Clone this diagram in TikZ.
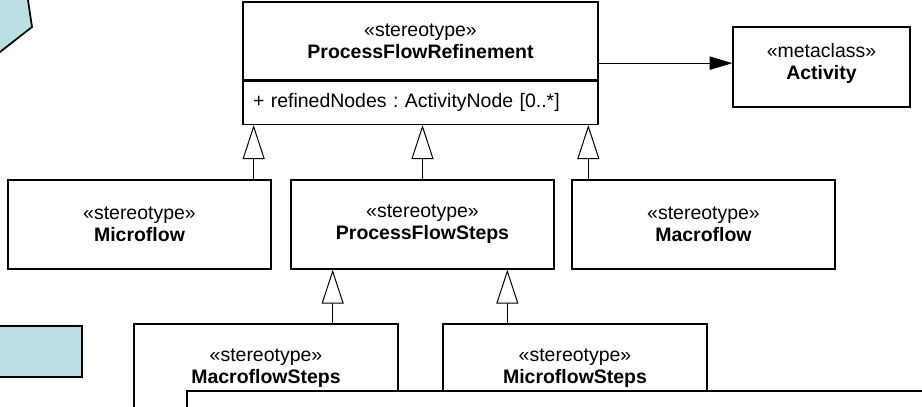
\documentclass[tikz,border=0pt]{standalone}
\usepackage{fontspec}
\setmainfont{Liberation Sans}
\usetikzlibrary{arrows.meta,calc,positioning}
\definecolor{paleteal}{HTML}{BBE0E3}
\frenchspacing
\tikzset{
  umlbox/.style={draw,line width=1pt,fill=white,align=center,inner sep=0pt},
  midbox/.style={umlbox,minimum width=197.25pt,minimum height=66.75pt},
  lowbox/.style={umlbox,minimum width=198pt,minimum height=66.75pt},
  gen/.style={line width=0.75pt,-{Triangle[open,length=25.5pt,width=16.5pt,fill=white]}},
  assoc/.style={line width=0.75pt,-{Triangle[length=17pt,width=10pt]}},
}
\begin{document}
\begin{tikzpicture}[x=0.75pt,y=-0.75pt,line join=miter,font=\fontsize{14.6}{16.5}\selectfont]
\useasboundingbox (0,0) rectangle (922,407);
\clip (0,0) rectangle (922,407);
% shapes cut off at the left edge
\draw[line width=1.3pt,fill=paleteal] (-10,59.8) -- (32,27) -- (26.5,-10) -- (-10,-10) -- cycle;
\draw[line width=1.3pt,fill=paleteal] (-10,326) rectangle (82,377);
% top stereotype and metaclass
\node[umlbox,minimum width=266.25pt,minimum height=58.5pt] (refine) at (420.5,41)
  {«stereotype»\\\textbf{ProcessFlowRefinement}};
\node[umlbox,align=left,text width=251.25pt,inner xsep=7.5pt,minimum height=32.25pt,below=0pt of refine] (refineattr)
  {+ refinedNodes : ActivityNode [0..*]};
\node[umlbox,minimum width=132.75pt,minimum height=60pt] (activity) at (821.5,67) {};
\node[align=center,inner sep=0pt] (activitytext) at (821.5,63) {«metaclass»\\\textbf{Activity}};
\coordinate (assocstart) at ($(refine.north east)!.5!(refineattr.south east)$);
\draw[assoc] (assocstart) -- (assocstart -| activity.west);
% second row
\node[midbox] (microflow) at (139.5,224.5) {«stereotype»\\\textbf{Microflow}};
\node[midbox] (flowsteps) at (422.5,224.5) {«stereotype»\\\textbf{ProcessFlowSteps}};
\node[midbox] (macroflow) at (703.5,224.5) {«stereotype»\\\textbf{Macroflow}};
\draw[gen] ($(microflow.north east)+(-18,0)$) coordinate (g1) -- (g1 |- refineattr.south);
\draw[gen] (flowsteps.north) -- (flowsteps.north |- refineattr.south);
\draw[gen] ($(macroflow.north west)+(17,0)$) coordinate (g3) -- (g3 |- refineattr.south);
% third row
\node[lowbox] (macrosteps) at (266,368.5) {«stereotype»\\\textbf{MacroflowSteps}};
\node[lowbox] (microsteps) at (575,368.5) {«stereotype»\\\textbf{MicroflowSteps}};
\draw[gen] ($(macrosteps.north east)+(-66,0)$) coordinate (g4) -- (g4 |- flowsteps.south);
\draw[gen] ($(microsteps.north west)+(65,0)$) coordinate (g5) -- (g5 |- flowsteps.south);
% frame laid over the lower boxes
\draw[line width=1.3pt,fill=white] (187,391) rectangle (940,430);
\end{tikzpicture}
\end{document}
